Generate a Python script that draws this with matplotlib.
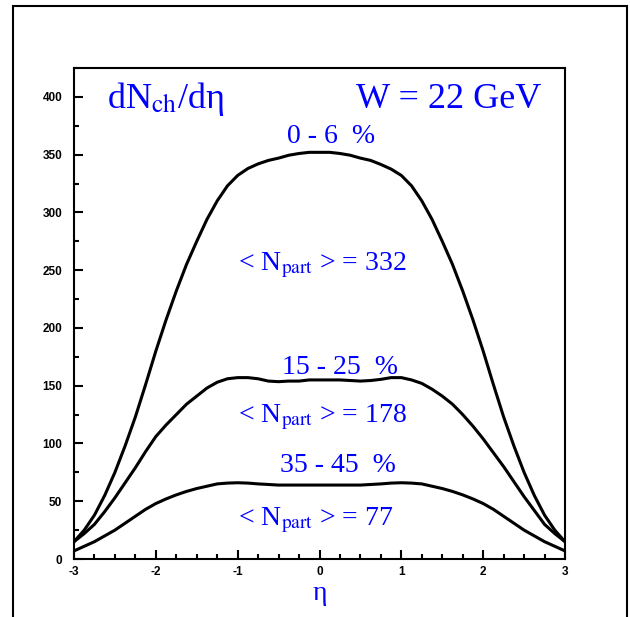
import matplotlib
matplotlib.use('Agg')
import matplotlib.pyplot as plt
from matplotlib.patches import Rectangle
from matplotlib.ticker import MultipleLocator
import numpy as np

plt.rcParams['font.family'] = ['Liberation Serif', 'DejaVu Serif']
plt.rcParams['mathtext.fontset'] = 'stix'
plt.rcParams['axes.unicode_minus'] = False

# pseudorapidity grid (steps of 0.125) and dN/deta for three centrality classes
eta = np.linspace(-3, 3, 49)
dn_0_6 = [15, 25, 38, 55, 75, 98, 123, 151, 180, 207, 232, 255, 275, 294, 310, 323, 332,
          338, 342, 345, 347, 349.5, 351, 352, 352,
          352, 351, 349.5, 347, 345, 341.5, 337.5, 332, 323, 310, 294, 275, 255, 232, 207,
          180, 151, 123, 98, 75, 55, 38, 25, 15]
dn_15_25 = [15, 22, 30, 41, 53, 66, 79, 93, 106, 116, 125, 134, 141, 148, 153, 156, 157,
            157, 156, 154, 153.5, 154, 154, 155, 155,
            155, 155, 154.5, 154, 154.5, 155.5, 157, 157, 155, 152, 147, 141, 134, 125, 115,
            104, 92, 80, 67, 54, 42, 30, 22, 15]
dn_35_45 = [7, 11, 15, 20, 25, 31, 37, 43, 48, 52, 55.5, 58.5, 61, 63, 65, 65.7, 66,
            65.7, 65, 64.5, 64, 64, 64, 64, 64,
            64, 64, 64, 64, 64.5, 65, 65.7, 66, 65.7, 65, 63, 61, 58.5, 55.5, 52,
            48, 43, 37, 31, 25, 20, 15, 11, 7]

fig = plt.figure(figsize=(6.3, 6.17), dpi=100)
ax = fig.add_axes([74/630, 1-559/617, 491/630, 491/617])

for y in (dn_0_6, dn_15_25, dn_35_45):
    ax.plot(eta, y, color='black', lw=2.2, solid_joinstyle='round')

ax.set_xlim(-3, 3)
ax.set_ylim(0, 425)
ax.xaxis.set_major_locator(MultipleLocator(1))
ax.xaxis.set_minor_locator(MultipleLocator(0.25))
ax.yaxis.set_major_locator(MultipleLocator(50))
ax.yaxis.set_minor_locator(MultipleLocator(25))
ax.tick_params(which='both', direction='in', top=False, right=False, width=1.5)
ax.tick_params(which='major', length=6.5)
ax.tick_params(which='minor', length=3.5)
ax.tick_params(axis='y', pad=8.5)
ax.tick_params(axis='x', pad=5)
for lab in ax.get_xticklabels() + ax.get_yticklabels():
    lab.set_fontfamily('Liberation Sans')
    lab.set_fontweight('bold')
    lab.set_fontsize(8.5)
for s in ax.spines.values():
    s.set_linewidth(1.5)

blue = '#0000ff'
ax.text(0.067, 0.9185, 'dN$_{\\mathrm{ch}}$/dη', transform=ax.transAxes, color=blue, fontsize=26, va='baseline')
ax.text(0.951, 0.9185, 'W = 22 GeV', transform=ax.transAxes, color=blue, fontsize=26, va='baseline', ha='right')
ax.text(0.434, 0.847, '0 - 6  %', transform=ax.transAxes, color=blue, fontsize=20, va='baseline')
ax.text(0.334, 0.5886, '< N$_{\\mathrm{part}}$ > = 332', transform=ax.transAxes, color=blue, fontsize=20, va='baseline')
ax.text(0.4236, 0.3768, '15 - 25  %', transform=ax.transAxes, color=blue, fontsize=20, va='baseline')
ax.text(0.334, 0.279, '< N$_{\\mathrm{part}}$ > = 178', transform=ax.transAxes, color=blue, fontsize=20, va='baseline')
ax.text(0.4196, 0.177, '35 - 45  %', transform=ax.transAxes, color=blue, fontsize=20, va='baseline')
ax.text(0.334, 0.0692, '< N$_{\\mathrm{part}}$ > = 77', transform=ax.transAxes, color=blue, fontsize=20, va='baseline')
ax.text(0.5, -0.084, 'η', transform=ax.transAxes, color=blue, fontsize=20, va='baseline', ha='center')

# outer frame, open at the bottom edge of the picture
fig.patches.append(Rectangle((12.7/630, -0.1), (627-12.7)/630, 1.1-6/617,
                             transform=fig.transFigure, fill=False, lw=1.5, ec='black'))

plt.savefig('out.png', dpi=100)
